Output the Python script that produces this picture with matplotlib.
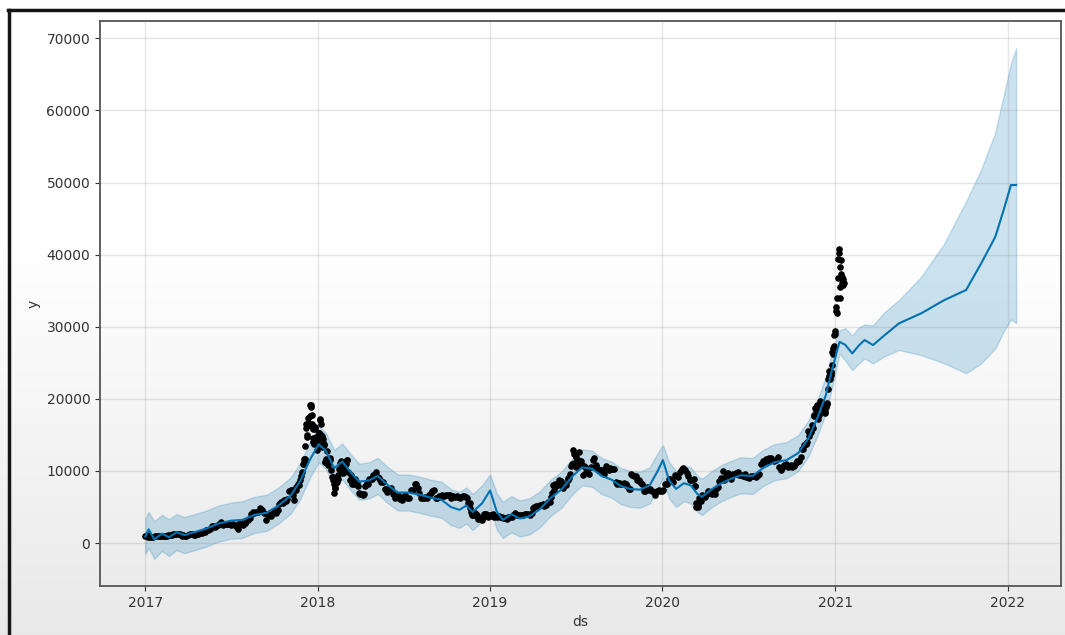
import numpy as np
import pandas as pd
import matplotlib
matplotlib.use("Agg")
import matplotlib.pyplot as plt
import matplotlib.dates as mdates
from matplotlib.lines import Line2D

# observed closing prices, one dict per year: 'MM-DD' -> price
obs_2017 = {
    '01-01': 1000, '01-04': 1150, '01-06': 890, '01-08': 910, '01-11': 780, '01-15': 820,
    '01-18': 870, '01-22': 920, '01-26': 920, '01-29': 920,
    '02-01': 990, '02-05': 1030, '02-09': 980, '02-12': 1000, '02-16': 1040, '02-19': 1060,
    '02-23': 1180, '02-26': 1180,
    '03-01': 1220, '03-05': 1270, '03-09': 1190, '03-12': 1230, '03-15': 1250, '03-19': 1030,
    '03-22': 1050, '03-26': 970, '03-29': 1040,
    '04-02': 1100, '04-06': 1190, '04-09': 1190, '04-13': 1180, '04-16': 1180, '04-20': 1240,
    '04-23': 1250, '04-27': 1340, '04-30': 1350,
    '05-04': 1510, '05-07': 1580, '05-10': 1750, '05-14': 1770, '05-18': 1880, '05-21': 2050,
    '05-23': 2300, '05-25': 2400, '05-28': 2200, '05-31': 2300,
    '06-04': 2500, '06-07': 2700, '06-11': 2950, '06-14': 2450, '06-18': 2590, '06-21': 2700,
    '06-25': 2590, '06-28': 2580,
    '07-02': 2500, '07-05': 2620, '07-09': 2500, '07-12': 2370, '07-14': 2230, '07-16': 1930,
    '07-20': 2850, '07-23': 2750, '07-26': 2560, '07-30': 2750,
    '08-01': 2710, '08-06': 3230, '08-10': 3420, '08-13': 4060, '08-17': 4280, '08-20': 4100,
    '08-24': 4320, '08-27': 4350,
    '09-01': 4890, '09-03': 4580, '09-06': 4600, '09-10': 4120, '09-14': 3250, '09-17': 3700,
    '09-20': 4000, '09-24': 3780, '09-28': 4200,
    '10-01': 4400, '10-05': 4220, '10-08': 4600, '10-12': 5400, '10-15': 5700, '10-19': 5600,
    '10-22': 6000, '10-26': 5890, '10-29': 6150,
    '11-02': 7200, '11-05': 7400, '11-08': 7400, '11-10': 6620, '11-12': 5950, '11-15': 7300,
    '11-17': 7790, '11-20': 8200, '11-23': 8040, '11-25': 8700, '11-26': 9330, '11-28': 9900,
    '12-01': 10900, '12-02': 10980, '12-03': 11300, '12-04': 11590, '12-05': 11700, '12-06': 13500,
    '12-07': 16500, '12-08': 16000, '12-09': 14700, '12-10': 15000, '12-11': 16700, '12-12': 17300,
    '12-13': 16400, '12-14': 16500, '12-15': 17600, '12-16': 19200, '12-17': 19100, '12-18': 18900,
    '12-19': 17700, '12-20': 16500, '12-21': 15800, '12-22': 14000, '12-23': 14600, '12-24': 13800,
    '12-25': 13900, '12-26': 16100, '12-27': 15800, '12-28': 14400, '12-29': 14700, '12-30': 12950,
    '12-31': 14150,
}
obs_2018 = {
    '01-01': 13600, '01-02': 14900, '01-03': 15200, '01-04': 15200, '01-05': 17000, '01-06': 17200,
    '01-07': 16500, '01-08': 15000, '01-09': 14600, '01-10': 14900, '01-11': 13300, '01-12': 13900,
    '01-13': 14400, '01-14': 13800, '01-15': 13600, '01-16': 11200, '01-17': 11200, '01-18': 11500,
    '01-19': 11700, '01-20': 12800, '01-22': 10800, '01-24': 11400, '01-25': 11200, '01-27': 11500,
    '01-28': 11800, '01-30': 10100,
    '02-01': 9100, '02-02': 8800, '02-03': 9200, '02-04': 8200, '02-05': 6900, '02-06': 7700,
    '02-07': 7600, '02-08': 8300, '02-10': 8500, '02-12': 8900, '02-14': 9500, '02-16': 10200,
    '02-17': 11100, '02-19': 11100, '02-20': 11400, '02-22': 10000, '02-24': 9700, '02-26': 10400,
    '03-01': 10900, '03-03': 11500, '03-05': 11500, '03-07': 9900, '03-10': 8800, '03-12': 9500,
    '03-15': 8200, '03-18': 8200, '03-20': 8900, '03-22': 8700, '03-25': 8500, '03-28': 7900,
    '03-30': 6900,
    '04-01': 6800, '04-04': 6800, '04-06': 6600, '04-09': 6800, '04-12': 7900, '04-15': 8300,
    '04-18': 8200, '04-20': 8900, '04-23': 8900, '04-25': 8900, '04-28': 9400,
    '05-01': 9100, '05-05': 9800, '05-08': 9200, '05-10': 9000, '05-13': 8700, '05-15': 8500,
    '05-20': 8500, '05-23': 7500, '05-25': 7500, '05-28': 7100,
    '06-01': 7500, '06-05': 7600, '06-10': 6800, '06-13': 6300, '06-15': 6400, '06-19': 6700,
    '06-24': 6100, '06-28': 5900,
    '07-01': 6400, '07-05': 6600, '07-10': 6300, '07-14': 6300, '07-17': 7300, '07-21': 7400,
    '07-25': 8200, '07-28': 8200,
    '08-01': 7600, '08-04': 7000, '08-08': 6300, '08-11': 6300, '08-14': 6200, '08-17': 6400,
    '08-20': 6300, '08-24': 6700, '08-28': 7000,
    '09-01': 7200, '09-04': 7400, '09-08': 6200, '09-11': 6300, '09-15': 6500, '09-19': 6400,
    '09-22': 6700, '09-26': 6500, '09-30': 6600,
    '10-04': 6600, '10-08': 6700, '10-11': 6200, '10-15': 6500, '10-19': 6400, '10-22': 6500,
    '10-26': 6400, '10-29': 6300,
    '11-01': 6350, '11-04': 6480, '11-07': 6530, '11-10': 6400, '11-14': 6300, '11-16': 5600,
    '11-19': 5600, '11-20': 4800, '11-22': 4300, '11-24': 3900, '11-25': 3900, '11-27': 3900,
    '11-28': 4200, '11-30': 4000,
    '12-01': 4200, '12-04': 3900, '12-07': 3400, '12-10': 3500, '12-13': 3300, '12-15': 3200,
    '12-18': 3600, '12-20': 4000, '12-22': 4000, '12-24': 4000, '12-27': 3600, '12-29': 3800,
    '12-31': 3700,
}
obs_2019 = {
    '01-01': 3900, '01-04': 3900, '01-08': 4000, '01-10': 3600, '01-15': 3600, '01-19': 3700,
    '01-22': 3600, '01-26': 3600, '01-29': 3430,
    '02-01': 3480, '02-05': 3400, '02-08': 3650, '02-12': 3600, '02-16': 3630, '02-19': 3950,
    '02-23': 4120, '02-26': 3820,
    '03-01': 3830, '03-05': 3860, '03-09': 3950, '03-12': 3880, '03-16': 4020, '03-19': 4000,
    '03-23': 3990, '03-26': 3950, '03-30': 4100,
    '04-02': 4880, '04-05': 5040, '04-09': 5150, '04-12': 5070, '04-16': 5230, '04-20': 5310,
    '04-23': 5400, '04-26': 5200, '04-30': 5320,
    '05-03': 5700, '05-07': 5750, '05-10': 6350, '05-12': 7000, '05-14': 7990, '05-16': 7880,
    '05-17': 7360, '05-19': 8190, '05-21': 7950, '05-24': 8000, '05-28': 8720, '05-30': 8660,
    '06-01': 8550, '06-04': 7680, '06-07': 8000, '06-11': 8010, '06-14': 8680, '06-16': 8990,
    '06-18': 9080, '06-20': 9530, '06-22': 10700, '06-24': 11000, '06-26': 12930, '06-27': 11150,
    '06-28': 12370, '06-30': 10820,
    '07-01': 10580, '07-03': 11960, '07-05': 11000, '07-07': 11450, '07-09': 12570, '07-11': 11350,
    '07-13': 11350, '07-15': 10850, '07-16': 9430, '07-18': 10620, '07-20': 10530, '07-23': 9850,
    '07-26': 9870, '07-30': 9580,
    '08-02': 10520, '08-06': 11460, '08-09': 11860, '08-13': 10860, '08-16': 10360, '08-20': 10140,
    '08-24': 10150, '08-27': 10170, '08-30': 9600,
    '09-03': 10620, '09-06': 10370, '09-10': 10160, '09-13': 10360, '09-17': 10240, '09-20': 10200,
    '09-24': 8500, '09-27': 8250, '09-30': 8290,
    '10-01': 8340, '10-04': 8150, '10-08': 8200, '10-11': 8270, '10-15': 8170, '10-18': 7960,
    '10-22': 7500, '10-24': 7460, '10-26': 9550, '10-29': 9430,
    '11-01': 9260, '11-05': 9320, '11-08': 8800, '11-12': 8770, '11-15': 8500, '11-19': 8120,
    '11-22': 7150, '11-26': 7170, '11-29': 7780,
    '12-03': 7320, '12-06': 7550, '12-10': 7220, '12-14': 7070, '12-17': 6640, '12-20': 7190,
    '12-24': 7320, '12-27': 7250, '12-31': 7190,
}
obs_2020 = {
    '01-03': 7340, '01-07': 8160, '01-10': 8170, '01-14': 8820, '01-17': 8920, '01-21': 8680,
    '01-24': 8440, '01-28': 9390, '01-31': 9350,
    '02-04': 9180, '02-07': 9800, '02-11': 10330, '02-14': 10360, '02-18': 10180, '02-21': 9680,
    '02-25': 9320, '02-28': 8780,
    '03-03': 8760, '03-07': 8910, '03-09': 7940, '03-10': 7880, '03-12': 4970, '03-13': 5560,
    '03-16': 5010, '03-17': 5240, '03-19': 6190, '03-22': 5830, '03-24': 6680, '03-27': 6370,
    '03-31': 6440,
    '04-03': 6730, '04-07': 7200, '04-10': 6870, '04-14': 6860, '04-17': 7100, '04-21': 6850,
    '04-24': 7550, '04-28': 7760, '04-30': 8660,
    '05-05': 9000, '05-08': 9990, '05-10': 8720, '05-12': 8820, '05-15': 9310, '05-19': 9730,
    '05-22': 9170, '05-26': 8840, '05-29': 9580,
    '06-02': 9530, '06-05': 9660, '06-09': 9790, '06-12': 9480, '06-16': 9450, '06-19': 9300,
    '06-23': 9630, '06-26': 9170, '06-30': 9140,
    '07-03': 9070, '07-07': 9250, '07-10': 9280, '07-14': 9250, '07-17': 9150, '07-21': 9390,
    '07-24': 9550, '07-28': 10950, '07-31': 11350,
    '08-04': 11200, '08-07': 11600, '08-11': 11400, '08-14': 11790, '08-18': 11780, '08-21': 11540,
    '08-25': 11370, '08-28': 11480,
    '09-01': 11920, '09-04': 10510, '09-08': 10130, '09-11': 10440, '09-15': 10790, '09-18': 10940,
    '09-22': 10540, '09-25': 10740, '09-29': 10840,
    '10-02': 10570, '10-06': 10620, '10-09': 11060, '10-13': 11430, '10-16': 11320, '10-20': 11920,
    '10-22': 12990, '10-24': 13030, '10-27': 13650, '10-30': 13800,
    '11-01': 13740, '11-03': 13950, '11-05': 15590, '11-07': 14830, '11-10': 15330, '11-12': 16300,
    '11-15': 15960, '11-17': 17650, '11-18': 17780, '11-20': 18680, '11-22': 18410, '11-24': 19160,
    '11-25': 18730, '11-26': 17150, '11-28': 17730, '11-30': 19630,
    '12-01': 18800, '12-02': 19200, '12-03': 19450, '12-04': 18700, '12-05': 19150, '12-06': 19360,
    '12-07': 19170, '12-08': 18320, '12-09': 18550, '12-10': 18260, '12-11': 18060, '12-12': 18800,
    '12-13': 19140, '12-14': 19250, '12-15': 19440, '12-16': 21310, '12-17': 22800, '12-18': 23140,
    '12-19': 23870, '12-20': 23480, '12-21': 22750, '12-22': 23780, '12-23': 23240, '12-24': 23730,
    '12-25': 24710, '12-26': 26440, '12-27': 26270, '12-28': 27080, '12-29': 27360, '12-30': 28840,
    '12-31': 29000,
}
obs_2021 = {
    '01-01': 29370, '01-02': 32130, '01-03': 32780, '01-04': 31970, '01-05': 33990, '01-06': 36820,
    '01-07': 39370, '01-08': 40800, '01-09': 40250, '01-10': 38350, '01-11': 35570, '01-12': 33920,
    '01-13': 37320, '01-14': 39190, '01-15': 36830, '01-16': 36070, '01-17': 35810, '01-18': 36630,
    '01-19': 36070,
}

# model fit + one-year forecast with uncertainty interval
fc_dates = ['2017-01-01', '2017-01-08', '2017-01-20', '2017-02-05', '2017-02-20', '2017-03-08',
            '2017-03-25', '2017-04-15', '2017-05-10', '2017-06-05', '2017-07-01', '2017-07-25',
            '2017-08-20', '2017-09-15', '2017-10-10', '2017-11-05', '2017-11-25', '2017-12-15',
            '2018-01-03', '2018-01-18', '2018-02-05', '2018-02-22', '2018-03-12', '2018-03-30',
            '2018-04-20', '2018-05-08', '2018-05-30', '2018-06-20', '2018-07-12', '2018-08-05',
            '2018-08-28', '2018-09-20', '2018-10-10', '2018-10-28', '2018-11-12', '2018-11-25',
            '2018-12-15', '2019-01-01', '2019-01-15', '2019-01-28', '2019-02-15', '2019-03-05',
            '2019-03-25', '2019-04-15', '2019-05-10', '2019-06-01', '2019-06-25', '2019-07-15',
            '2019-08-05', '2019-08-25', '2019-09-15', '2019-10-05', '2019-10-25', '2019-11-15',
            '2019-12-05', '2019-12-22', '2020-01-02', '2020-01-15', '2020-01-30', '2020-02-15',
            '2020-03-01', '2020-03-15', '2020-03-25', '2020-04-15', '2020-05-05', '2020-05-25',
            '2020-06-15', '2020-07-10', '2020-08-01', '2020-08-25', '2020-09-20', '2020-10-15',
            '2020-11-05', '2020-11-25', '2020-12-12', '2020-12-25', '2021-01-10', '2021-01-22',
            '2021-02-06', '2021-02-20', '2021-03-04', '2021-03-22', '2021-04-15', '2021-05-16',
            '2021-07-02', '2021-08-20', '2021-10-05', '2021-11-06', '2021-12-06', '2021-12-25',
            '2022-01-08', '2022-01-19']
fc_yhat = [900, 1900, 500, 1300, 800, 1500,
           1100, 1500, 2000, 2700, 3100, 3200,
           3900, 4200, 5200, 6600, 8600, 11500,
           13700, 12800, 10400, 11300, 9800, 8500,
           8700, 9300, 8000, 7000, 7000, 6700,
           6300, 6000, 5000, 4600, 5200, 4300,
           5500, 7300, 4400, 3200, 4000, 3400,
           3700, 4600, 6300, 7400, 9300, 10500,
           10300, 9300, 8800, 7900, 7500, 7400,
           8000, 10000, 11500, 8700, 7500, 8300,
           8000, 6800, 6400, 7500, 8300, 8900,
           9400, 9300, 10400, 11200, 11500, 12500,
           14500, 17500, 20500, 24000, 27900, 27500,
           26300, 27400, 28150, 27460, 28800, 30470,
           31860, 33700, 35090, 38790, 42480, 46500,
           49650, 49650]
fc_lower = [-1500, -700, -2200, -1100, -1800, -1000,
            -1400, -1000, -500, 200, 600, 700,
            1400, 1700, 2700, 4100, 6100, 9000,
            11200, 10300, 7900, 8800, 7300, 6000,
            6200, 6800, 5500, 4500, 4500, 4200,
            3800, 3500, 2500, 2100, 2700, 1800,
            3000, 4900, 1900, 700, 1500, 900,
            1200, 2100, 3800, 4900, 6800, 8000,
            7800, 6800, 6300, 5400, 5000, 4900,
            5500, 7500, 9000, 6200, 5000, 5800,
            5500, 4300, 3900, 5000, 5800, 6400,
            6900, 6800, 7900, 8700, 9000, 10000,
            12000, 15000, 18000, 21500, 26300, 25300,
            24000, 24900, 25600, 24900, 25900, 26770,
            26070, 24920, 23540, 24920, 27000, 29500,
            31000, 30500]
fc_upper = [3400, 4300, 3000, 3900, 3300, 4000,
            3600, 4000, 4500, 5200, 5600, 5800,
            6400, 6700, 7700, 9100, 11100, 14000,
            16200, 15300, 12900, 13800, 12300, 11000,
            11200, 11800, 10500, 9500, 9500, 9200,
            8800, 8500, 7500, 7100, 7700, 6800,
            8000, 9500, 6900, 5700, 6500, 5900,
            6200, 7100, 8800, 9900, 11800, 13000,
            12800, 11800, 11300, 10400, 10000, 9900,
            10500, 12500, 13600, 11200, 10000, 10800,
            10500, 9300, 8900, 10000, 10800, 11400,
            11900, 11800, 12900, 13700, 14000, 15000,
            17000, 20000, 23000, 26500, 29500, 29800,
            28800, 29900, 30300, 30200, 32000, 33700,
            36930, 41570, 47400, 51800, 57000, 62500,
            66530, 68610]

ds_obs, y_obs = [], []
for year, obs in zip(range(2017, 2022), [obs_2017, obs_2018, obs_2019, obs_2020, obs_2021]):
    ds_obs += [f'{year}-{d}' for d in obs]
    y_obs += list(obs.values())
ds_obs = pd.to_datetime(ds_obs)
ds_fc = pd.to_datetime(fc_dates)

W, H = 1065, 635
fig = plt.figure(figsize=(W / 100, H / 100), dpi=100)

# soft grey wash towards the bottom of the window
bg = fig.add_axes([0, 0, 1, 1], zorder=-10)
rows = np.interp(np.arange(H), [0, 230, H - 1], [1.0, 1.0, 0.91])
bg.imshow(np.repeat(rows[:, None], 2, axis=1), cmap='gray', vmin=0, vmax=1,
          aspect='auto', extent=[0, 1, 0, 1])
bg.axis('off')

ax = fig.add_axes([100 / W, 1 - 586 / H, 961 / W, 565 / H])
ax.set_facecolor('none')

ax.plot(ds_obs, y_obs, 'k.', ms=7.5)
ax.plot(ds_fc, fc_yhat, ls='-', c='#0072B2', lw=1.5)
ax.fill_between(ds_fc, fc_lower, fc_upper, color='#0072B2', alpha=0.2)

ax.grid(True, which='major', c='gray', ls='-', lw=1, alpha=0.2)
ax.set_xlim(pd.Timestamp('2016-09-27'), pd.Timestamp('2022-04-24'))
ax.set_ylim(-5960, 72400)
ax.set_yticks(np.arange(0, 70001, 10000))
ax.xaxis.set_major_locator(mdates.YearLocator())
ax.xaxis.set_major_formatter(mdates.DateFormatter('%Y'))
ax.tick_params(labelsize=10, colors='#333333')
for s in ax.spines.values():
    s.set_color('#555555')
    s.set_linewidth(1.3)
ax.set_xlabel('ds', fontsize=10, color='#333333')
ax.set_ylabel('y', fontsize=10, color='#333333')

# dark window frame along the top and left
fig.add_artist(Line2D([8 / W, 1], [1 - 10 / H] * 2, transform=fig.transFigure,
                      color='#151515', lw=2.5))
fig.add_artist(Line2D([8.5 / W] * 2, [0, 1 - 10 / H], transform=fig.transFigure,
                      color='#151515', lw=2.5))

fig.savefig('out.png', dpi=100)
